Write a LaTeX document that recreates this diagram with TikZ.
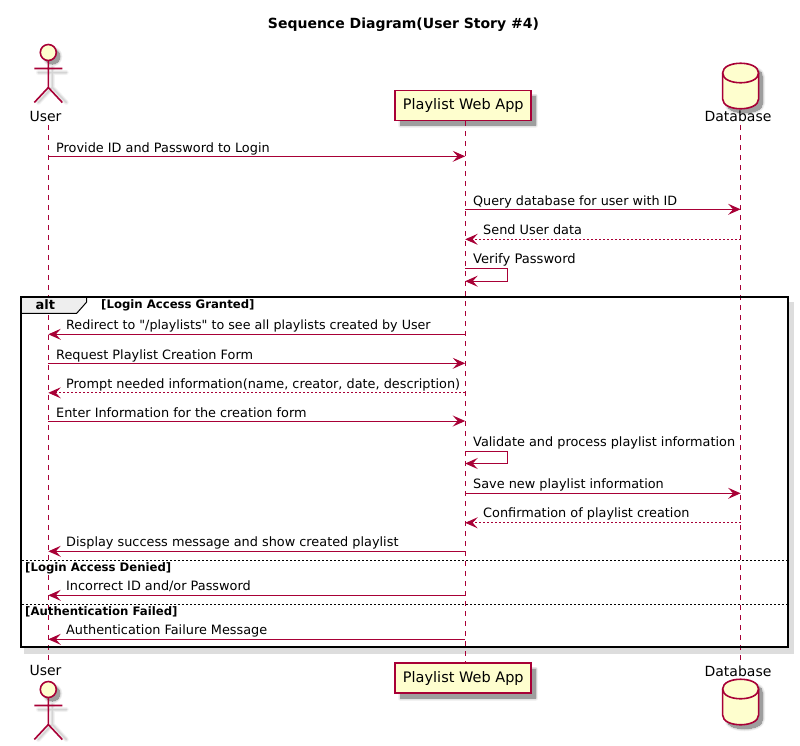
\documentclass[tikz,border=0pt]{standalone}
\usepackage{fontspec}
\setmainfont{DejaVu Sans}[Ligatures=TeXOff]
\usetikzlibrary{arrows.meta,shapes.geometric}
\definecolor{pl}{HTML}{A80036}
\definecolor{plfill}{HTML}{FEFECE}
\definecolor{frameshadow}{HTML}{DDDDDD}
\definecolor{tabfill}{HTML}{EEEEEE}
\tikzset{
  x=1pt,y=-1pt,
  msgtext/.style={font=\fontsize{12.85}{15}\selectfont,anchor=base west,inner sep=0pt,text=black},
  lab/.style={font=\fontsize{14}{16}\selectfont,anchor=base,inner sep=0pt,text=black},
  guard/.style={font=\fontsize{11.7}{13}\selectfont\bfseries,anchor=base west,inner sep=0pt,text=black},
  life/.style={draw=pl,line width=0.9pt,dash pattern=on 5pt off 5pt},
  msg/.style={draw=pl,line width=1pt,-{Stealth[length=12.5pt,width=11pt,inset=5pt,fill=pl]}},
  reply/.style={msg,dash pattern=on 2pt off 2pt},
  partbox/.style={draw=pl,fill=plfill,line width=1.7pt,minimum width=136pt,minimum height=30pt,inner sep=0pt,font=\fontsize{14.5}{16}\selectfont,text=black},
  actorline/.style={draw=pl,line width=1.6pt},
  sep/.style={draw=black,line width=0.9pt,dash pattern=on 2pt off 2pt},
}
% soft shadow: stacked strokes, light and wide first
\newcommand{\softshadow}[1]{%
  \foreach \w/\c in {5/5,3.5/10,2/18,0.8/28,0/38}{\path[draw=black!\c,fill=black!\c,line width=\w pt,line join=round] #1;}%
}
\newcommand{\softstroke}[1]{%
  \foreach \w/\c in {5/4,3.5/8,2/13,1/17}{\path[draw=black!\c,line width=\w pt,line cap=round] #1;}%
}
\newcommand{\actorfig}[2]{%
  \softstroke{(#1+4,#2+12) -- (#1+4,#2+35) (#1-10,#2+20) -- (#1+18,#2+20) (#1+4,#2+35) -- (#1-10,#2+50) (#1+4,#2+35) -- (#1+18,#2+50)}
  \softshadow{(#1+4,#2+4) circle (7.5)}
  \draw[actorline] (#1,#2+8) -- (#1,#2+35) (#1-14,#2+16) -- (#1+14,#2+16) (#1,#2+35) -- (#1-14,#2+50) (#1,#2+35) -- (#1+14,#2+50);
  \draw[actorline,fill=plfill] (#1,#2) circle (8);
}
\newcommand{\dbfig}[2]{%
  \softshadow{(#1-14,#2+4) .. controls (#1-14,#2-9) and (#1+22,#2-9) .. (#1+22,#2+4) -- (#1+22,#2+30) .. controls (#1+22,#2+43) and (#1-14,#2+43) .. (#1-14,#2+30) -- cycle}
  \draw[actorline,fill=plfill] (#1-18,#2) .. controls (#1-18,#2-13) and (#1+18,#2-13) .. (#1+18,#2) -- (#1+18,#2+26) .. controls (#1+18,#2+39) and (#1-18,#2+39) .. (#1-18,#2+26) -- cycle;
  \draw[actorline] (#1-18,#2) .. controls (#1-18,#2+13) and (#1+18,#2+13) .. (#1+18,#2);
}
\begin{document}
\begin{tikzpicture}
\useasboundingbox (0,0) rectangle (800,745);
% title
\node[font=\fontsize{14}{16}\selectfont\bfseries,anchor=base,inner sep=0pt] (title) at (403.5,28) {Sequence Diagram(User Story \#4)};
% lifeline anchors
\coordinate (utop) at (48.3,125);
\coordinate (ubot) at (48.3,660);
\coordinate (xp) at (465.2,0);
\coordinate (dtop) at (740.6,125);
\coordinate (dbot) at (740.6,660);
% participants
\softshadow{(400.5,96) rectangle (535.5,125)}
\softshadow{(400.5,669) rectangle (535.5,698)}
\node[partbox] (ptop) at (463.3,105.5) {Playlist Web App};
\node[partbox] (pbot) at (463.3,678.3) {Playlist Web App};
\actorfig{48.3}{52.5}
\actorfig{48.3}{689.5}
\dbfig{740.6}{73}
\dbfig{740.6}{689}
\node[lab] (utoplab) at (45.5,121.7) {User};
\node[lab] (ubotlab) at (45.5,675.5) {User};
\node[lab] (dtoplab) at (738,121.7) {Database};
\node[lab] (dbotlab) at (738,676) {Database};
% alt frame shadow
\fill[frameshadow] (24,302) rectangle (794,654);
\fill[white] (20,297) rectangle (788,648);
% lifelines
\draw[life] (utop) -- (ubot);
\draw[life] (ptop.south -| xp) -- (pbot.north -| xp);
\draw[life] (dtop) -- (dbot);
% alt frame
\draw[black,line width=2pt] (21,297) rectangle (787.5,647.3);
\path[draw=black,fill=tabfill,line width=1pt] (21,297) -- (86.7,297) -- (86.7,302) -- (76.7,313.3) -- (21,313.3) -- cycle;
\draw[black,line width=2pt] (20,297) -- (87,297) (21,297) -- (21,314);
\node[font=\fontsize{13}{15}\selectfont\bfseries,anchor=base,inner sep=0pt] (alttab) at (45.3,309) {alt};
\draw[sep] (22,560.3) -- (786.5,560.3);
\draw[sep] (22,604.3) -- (786.5,604.3);
\node[guard] (g1) at (101,308.3) {[Login Access Granted]};
\node[guard] (g2) at (25,571) {[Login Access Denied]};
\node[guard] (g3) at (25,615) {[Authentication Failed]};
% messages
\foreach \n/\y in {a/156.3,b/209.3,c/239.3,d/268.7,e/334.3,f/363.3,g/392.8,h/421,i/451,j/493.3,k/522.8,l/551.3,m/595.3,n/639.3}{
  \path (utop |- 0,\y) coordinate (u\n);
  \path (xp |- 0,\y) coordinate (p\n);
  \path (dtop |- 0,\y) coordinate (d\n);
}
\draw[msg] (ua) -- (pa);
\draw[msg] (pb) -- (db);
\draw[reply] (dc) -- (pc);
\draw[msg] (pd) -- ++(42.5,0) -- ++(0,12.5) -- ++(-42.5,0);
\draw[msg] (pe) -- (ue);
\draw[msg] (uf) -- (pf);
\draw[reply] (pg) -- (ug);
\draw[msg] (uh) -- (ph);
\draw[msg] (pi) -- ++(42.5,0) -- ++(0,12.5) -- ++(-42.5,0);
\draw[msg] (pj) -- (dj);
\draw[reply] (dk) -- (pk);
\draw[msg] (pl) -- (ul);
\draw[msg] (pm) -- (um);
\draw[msg] (pn) -- (un);
% labels
\node[msgtext] (ta) at (56,152) {Provide ID and Password to Login};
\node[msgtext,font=\fontsize{12.75}{15}\selectfont] (tb) at (473,205) {Query database for user with ID};
\node[msgtext] (tc) at (483,234.5) {Send User data};
\node[msgtext,font=\fontsize{13.1}{15}\selectfont] (td) at (473,263.5) {Verify Password};
\node[msgtext,font=\fontsize{12.7}{15}\selectfont] (te) at (66,329.3) {Redirect to "/playlists" to see all playlists created by User};
\node[msgtext] (tf) at (56,359) {Request Playlist Creation Form};
\node[msgtext] (tg) at (66,388) {Prompt needed information(name, creator, date, description)};
\node[msgtext] (th) at (56,417) {Enter Information for the creation form};
\node[msgtext] (ti) at (473,446) {Validate and process playlist information};
\node[msgtext] (tj) at (473,488) {Save new playlist information};
\node[msgtext] (tk) at (483,517.5) {Confirmation of playlist creation};
\node[msgtext] (tl) at (66,546.5) {Display success message and show created playlist};
\node[msgtext] (tm) at (66,590.5) {Incorrect ID and/or Password};
\node[msgtext] (tn) at (66,634.5) {Authentication Failure Message};
\end{tikzpicture}
\end{document}
